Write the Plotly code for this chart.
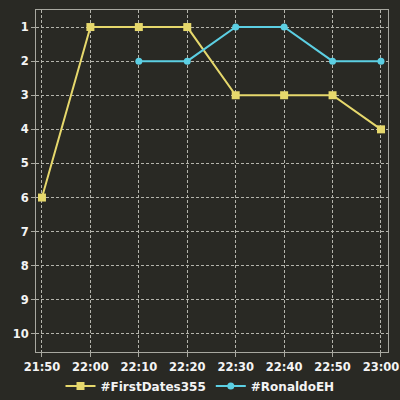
import plotly.graph_objects as go

times_a = ["2020-01-01 21:50", "2020-01-01 22:00", "2020-01-01 22:10", "2020-01-01 22:20",
           "2020-01-01 22:30", "2020-01-01 22:40", "2020-01-01 22:50", "2020-01-01 23:00"]
rank_a = [6, 1, 1, 1, 3, 3, 3, 4]
times_b = ["2020-01-01 22:10", "2020-01-01 22:20", "2020-01-01 22:30",
           "2020-01-01 22:40", "2020-01-01 22:50", "2020-01-01 23:00"]
rank_b = [2, 2, 1, 1, 2, 2]
name_a = "#FirstDates355"
name_b = "#RonaldoEH"

bg = "#292924"
fig = go.Figure()
fig.add_trace(go.Scatter(x=times_a, y=rank_a, name=name_a, mode="lines+markers",
                         line=dict(color="#e6d86c", width=2),
                         marker=dict(symbol="square", size=8, color="#e6d86c")))
fig.add_trace(go.Scatter(x=times_b, y=rank_b, name=name_b, mode="lines+markers",
                         line=dict(color="#5ccfe3", width=2),
                         marker=dict(symbol="circle", size=7, color="#5ccfe3")))

grid = dict(showgrid=True, gridcolor="#b4b4ac", griddash="3px,2px", gridwidth=1,
            showline=True, linecolor="#a8a8a0", linewidth=1, mirror=True,
            zeroline=False, ticks="outside", ticklen=4, tickcolor="#a8a8a0",
            automargin=False,
            tickfont=dict(color="#f4f4f4", size=11.5, family="DejaVu Sans", weight="bold"))
fig.update_layout(
    width=400, height=400,
    paper_bgcolor=bg, plot_bgcolor=bg,
    margin=dict(l=36, r=12, t=10, b=48),
    font=dict(family="DejaVu Sans", color="#f4f4f4", size=12),
    showlegend=True,
    legend=dict(orientation="h", x=0.5, xanchor="center", xref="container",
                y=0.035, yanchor="middle", yref="container",
                font=dict(size=12, color="#f4f4f4", family="DejaVu Sans", weight="bold"),
                bgcolor="rgba(0,0,0,0)", itemwidth=30, tracegroupgap=0),
    xaxis=dict(type="date", range=["2020-01-01 21:48:46", "2020-01-01 23:01:27"],
               dtick=600000, tick0="2020-01-01 21:50", tickformat="%H:%M", **grid),
    yaxis=dict(range=[10.53, 0.5], dtick=1, tick0=1, **grid),
)
fig.write_html("out.html")
